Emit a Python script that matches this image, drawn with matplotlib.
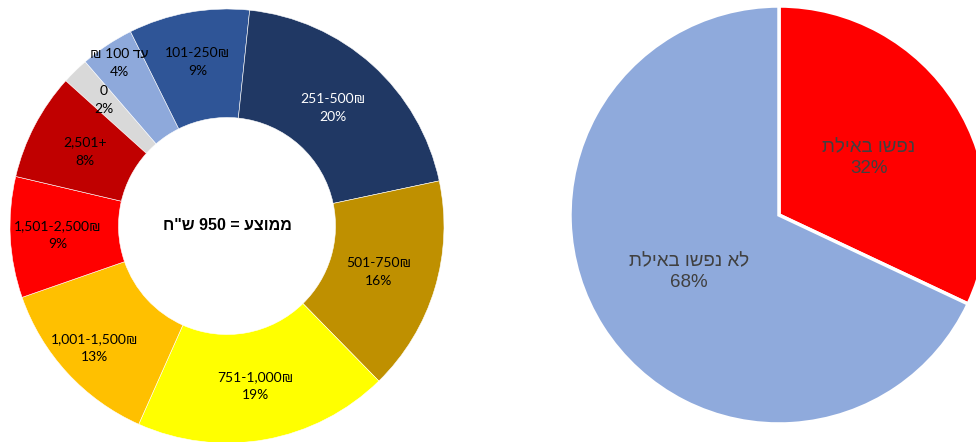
import re
import numpy as np
import matplotlib
matplotlib.use("Agg")
import matplotlib.pyplot as plt

# Donut: monthly spend ranges (display order as drawn, clockwise)
ranges = ["0", "עד 100 ₪", "101-250₪", "251-500₪", "501-750₪",
          "751-1,000₪", "1,001-1,500₪", "1,501-2,500₪", "2,501+"]
range_pct = [2, 4, 9, 20, 16, 19, 13, 9, 8]
range_colors = ["#D9D9D9", "#8EA9DB", "#2F5597", "#203864", "#BF9000",
                "#FFFF00", "#FFC000", "#FF0000", "#C00000"]
range_text = ["black", "black", "black", "white", "black",
              "black", "black", "black", "black"]
# how far out each label sits (fraction of outer radius)
label_r = [0.81, 0.90, 0.77, 0.73, 0.73, 0.75, 0.83, 0.78, 0.74]
center_text = 'ממוצע = 950 ש"ח'

# Pie: slept in Eilat or not
stay_labels = ["נפשו באילת", "לא נפשו באילת"]
stay_pct = [32, 68]
stay_colors = ["#FF0000", "#8FAADC"]


def rtl(s):
    # matplotlib has no bidi support: flip the string, keep numbers readable
    r = s[::-1]
    return re.sub(r"[0-9][0-9,.]*", lambda m: m.group(0)[::-1], r)


W, H = 976, 442
fig = plt.figure(figsize=(W / 100, H / 100), dpi=100)


def axes_for_circle(cx, cy, r):
    return fig.add_axes([(cx - r) / W, (H - cy - r) / H, 2 * r / W, 2 * r / H])


# ---- left donut ----
ax1 = axes_for_circle(227, 226, 217)
wedges, _ = ax1.pie(range_pct, colors=range_colors, startangle=138,
                    counterclock=False, radius=1,
                    wedgeprops=dict(width=0.5, edgecolor="white", linewidth=0.4))
lab_font = ["Lato", "Liberation Sans", "DejaVu Sans"]
for w, name, p, tc, lr in zip(wedges, ranges, range_pct, range_text, label_r):
    ang = np.deg2rad((w.theta1 + w.theta2) / 2)
    x, y = lr * np.cos(ang), lr * np.sin(ang)
    txt = rtl(name) if re.search("[\u0590-\u05FF]", name) else name
    ax1.text(x, y, f"{txt}\n{p}%", ha="center", va="center", fontsize=10,
             color=tc, family=lab_font, linespacing=1.6)
ax1.text(0, 0, rtl(center_text), ha="center", va="center", fontsize=11.5,
         fontweight="bold", family=["Liberation Sans", "DejaVu Sans"])
ax1.set_xlim(-1, 1)
ax1.set_ylim(-1, 1)
ax1.set_aspect("equal")
ax1.axis("off")

# ---- right pie ----
ax2 = axes_for_circle(779, 215, 209)
wedges2, _ = ax2.pie(stay_pct, colors=stay_colors, startangle=90,
                     counterclock=False, radius=1,
                     wedgeprops=dict(edgecolor="white", linewidth=2.5))
for w, name, p in zip(wedges2, stay_labels, stay_pct):
    ang = np.deg2rad((w.theta1 + w.theta2) / 2)
    x, y = 0.51 * np.cos(ang), 0.51 * np.sin(ang)
    ax2.text(x, y, f"{rtl(name)}\n{p}%", ha="center", va="center",
             fontsize=13.5, color="#404040",
             family=["Liberation Sans", "DejaVu Sans"], linespacing=1.3)
ax2.set_xlim(-1, 1)
ax2.set_ylim(-1, 1)
ax2.set_aspect("equal")
ax2.axis("off")

fig.savefig("out.png", dpi=100)
